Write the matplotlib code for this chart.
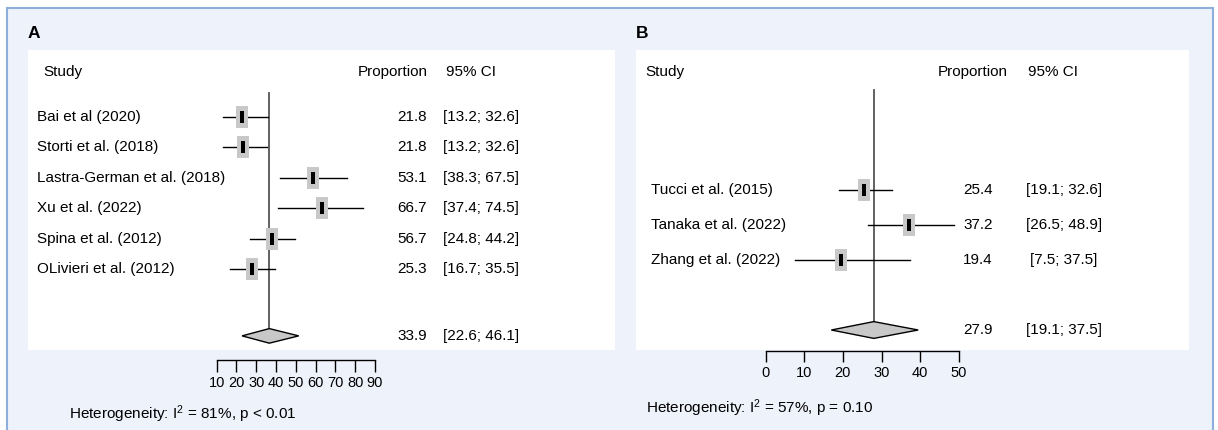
import matplotlib
matplotlib.use("Agg")
import matplotlib.pyplot as plt
import matplotlib.transforms as mtransforms
from matplotlib.patches import Rectangle, Polygon
from matplotlib import font_manager

# Panel A data
studies_a = ["Bai et al (2020)", "Storti et al. (2018)", "Lastra-German et al. (2018)",
             "Xu et al. (2022)", "Spina et al. (2012)", "OLivieri et al. (2012)"]
prop_text_a = ["21.8", "21.8", "53.1", "66.7", "56.7", "25.3"]
ci_text_a = ["[13.2; 32.6]", "[13.2; 32.6]", "[38.3; 67.5]", "[37.4; 74.5]",
             "[24.8; 44.2]", "[16.7; 35.5]"]
# positions of the squares / whiskers as drawn in the picture
est_a = [22.4, 22.8, 52.2, 55.9, 34.9, 26.8]
lo_a = [14.8, 14.8, 38.3, 37.6, 25.9, 17.6]
hi_a = [33.5, 32.8, 66.0, 72.9, 44.6, 36.3]
pooled_a = (33.9, 22.6, 46.1)
pooled_text_a = ("33.9", "[22.6; 46.1]")
ticks_a = [10, 20, 30, 40, 50, 60, 70, 80, 90]
het_a = "Heterogeneity: I$^{2}$ = 81%, p < 0.01"

# Panel B data
studies_b = ["Tucci et al. (2015)", "Tanaka et al. (2022)", "Zhang et al. (2022)"]
prop_text_b = ["25.4", "37.2", "19.4"]
ci_text_b = ["[19.1; 32.6]", "[26.5; 48.9]", "[7.5; 37.5]"]
est_b = [25.4, 37.2, 19.4]
lo_b = [19.1, 26.5, 7.5]
hi_b = [32.6, 48.9, 37.5]
pooled_b = (28.0, 17.0, 39.5)  # diamond as drawn
pooled_text_b = ("27.9", "[19.1; 37.5]")
ticks_b = [0, 10, 20, 30, 40, 50]
het_b = "Heterogeneity: I$^{2}$ = 57%, p = 0.10"

W, H = 1218, 430
names = {f.name for f in font_manager.fontManager.ttflist}
if "Liberation Sans Narrow" in names:
    plt.rcParams["font.family"] = ["Liberation Sans Narrow", "DejaVu Sans"]
    FS, FT = 12.5, 12.5
else:
    plt.rcParams["font.family"] = ["Liberation Sans", "DejaVu Sans"]
    FS, FT = 11, 10.5
plt.rcParams["mathtext.default"] = "regular"

BG = "#eef2fa"
EDGE = "#8eaedb"
GREY = "#c8c8c8"

fig = plt.figure(figsize=(W / 100, H / 100), dpi=100)
fig.patch.set_facecolor("white")


def fx(x):
    return x / W


def fy(y):
    return 1 - y / H


def box(x0, y0, x1, y1, **kw):
    fig.patches.append(Rectangle((fx(x0), fy(y1)), fx(x1) - fx(x0), fy(y0) - fy(y1),
                                 transform=fig.transFigure, **kw))


def axes_px(x0, y0, x1, y1):
    return fig.add_axes([fx(x0), fy(y1), fx(x1) - fx(x0), fy(y0) - fy(y1)])


# outer frame and white boxes (behind the axes)
box(7, 8, 1213, 440, facecolor=BG, edgecolor=EDGE, linewidth=1.5, zorder=-3)
box(28, 50, 615, 350, facecolor="white", edgecolor="none", zorder=-2)
box(636, 50, 1189, 350, facecolor="white", edgecolor="none", zorder=-2)

gray_sq = [(-0.26, -0.5), (0.26, -0.5), (0.26, 0.5), (-0.26, 0.5), (-0.26, -0.5)]
black_bar = [(-0.19, -0.5), (0.19, -0.5), (0.19, 0.5), (-0.19, 0.5), (-0.19, -0.5)]


def forest(ax, est, lo, hi, pooled, rows, prow, ref_top):
    ax.axis("off")
    ax.plot([pooled[0], pooled[0]], [ref_top, prow], color="#555555", lw=1.3, zorder=1)
    for e, l, h, r in zip(est, lo, hi, rows):
        ax.plot([l, h], [r, r], color="black", lw=1.0, zorder=2, clip_on=False)
        ax.plot([e], [r], marker=gray_sq, markersize=16.5, color=GREY,
                markeredgewidth=0, zorder=3, clip_on=False)
        ax.plot([e], [r], marker=black_bar, markersize=8.6, color="black",
                markeredgewidth=0, zorder=4, clip_on=False)
    est_p, lo_p, hi_p = pooled
    dh = 0.24
    ax.add_patch(Polygon([(lo_p, prow), (est_p, prow - dh), (hi_p, prow), (est_p, prow + dh)],
                         closed=True, facecolor=GREY, edgecolor="black", lw=1.0, zorder=3,
                         clip_on=False))


def ruler(x0, x1, y, ticks, tlen):
    r = axes_px(x0, y - 1, x1, y)
    r.set_facecolor("none")
    r.set_xlim(ticks[0], ticks[-1])
    r.set_yticks([])
    for s in ("top", "left", "right"):
        r.spines[s].set_visible(False)
    r.spines["bottom"].set_linewidth(1.0)
    r.set_xticks(ticks)
    r.tick_params(axis="x", length=tlen, width=1.0, pad=3, labelsize=FT)
    return r


# ---------- Panel A ----------
ax_a = axes_px(187.6, 90, 428.6, 350)
ax_a.set_xlim(0, 100)
sp_a = 30.4
ax_a.set_ylim((350 - 117) / sp_a, (90 - 117) / sp_a)
rows_a = list(range(len(studies_a)))
prow_a = 7.2
forest(ax_a, est_a, lo_a, hi_a, pooled_a, rows_a, prow_a, (93 - 117) / sp_a)
ta = mtransforms.blended_transform_factory(fig.transFigure, ax_a.transData)
for name, p, c, r in zip(studies_a, prop_text_a, ci_text_a, rows_a):
    fig.text(fx(37), r, name, transform=ta, va="center", ha="left", fontsize=FS)
    fig.text(fx(427), r, p, transform=ta, va="center", ha="right", fontsize=FS)
    fig.text(fx(443), r, c, transform=ta, va="center", ha="left", fontsize=FS)
fig.text(fx(427), prow_a, pooled_text_a[0], transform=ta, va="center", ha="right", fontsize=FS)
fig.text(fx(443), prow_a, pooled_text_a[1], transform=ta, va="center", ha="left", fontsize=FS)

fig.text(fx(28), fy(33), "A", fontsize=FS + 1.5, fontweight="bold", va="center", ha="left")
fig.text(fx(43), fy(72), "Study", fontsize=FS, va="center", ha="left")
fig.text(fx(358), fy(72), "Proportion", fontsize=FS, va="center", ha="left")
fig.text(fx(446), fy(72), "95% CI", fontsize=FS, va="center", ha="left")
ruler(216.7, 375, 360, ticks_a, 8.5)
fig.text(fx(69), fy(414), het_a, fontsize=FS, va="center", ha="left")

# ---------- Panel B ----------
ax_b = axes_px(765.7, 88, 958.7, 350)
ax_b.set_xlim(0, 50)
sp_b = 35.0
ax_b.set_ylim((350 - 190) / sp_b, (88 - 190) / sp_b)
rows_b = list(range(len(studies_b)))
prow_b = 4.0
forest(ax_b, est_b, lo_b, hi_b, pooled_b, rows_b, prow_b, (90 - 190) / sp_b)
tb = mtransforms.blended_transform_factory(fig.transFigure, ax_b.transData)
for name, p, c, r in zip(studies_b, prop_text_b, ci_text_b, rows_b):
    fig.text(fx(651), r, name, transform=tb, va="center", ha="left", fontsize=FS)
    fig.text(fx(993), r, p, transform=tb, va="center", ha="right", fontsize=FS)
    fig.text(fx(1064), r, c, transform=tb, va="center", ha="center", fontsize=FS)
fig.text(fx(993), prow_b, pooled_text_b[0], transform=tb, va="center", ha="right", fontsize=FS)
fig.text(fx(1064), prow_b, pooled_text_b[1], transform=tb, va="center", ha="center", fontsize=FS)

fig.text(fx(636), fy(33), "B", fontsize=FS + 1.5, fontweight="bold", va="center", ha="left")
fig.text(fx(645), fy(72), "Study", fontsize=FS, va="center", ha="left")
fig.text(fx(938), fy(72), "Proportion", fontsize=FS, va="center", ha="left")
fig.text(fx(1028), fy(72), "95% CI", fontsize=FS, va="center", ha="left")
ruler(765.7, 958.7, 351, ticks_b, 7.7)
fig.text(fx(646), fy(408), het_b, fontsize=FS, va="center", ha="left")

fig.savefig("out.png", dpi=100)
